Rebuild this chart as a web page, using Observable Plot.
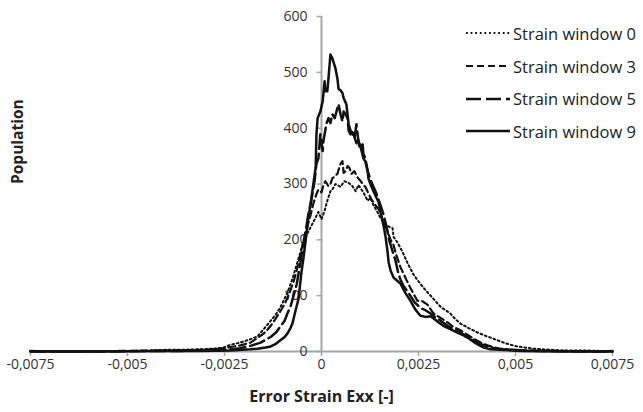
<!DOCTYPE html>
<html>
<head>
<meta charset="utf-8">
<script src="https://cdn.jsdelivr.net/npm/d3@7"></script>
<script src="https://cdn.jsdelivr.net/npm/@observablehq/plot@0.6"></script>
<style>
  html, body { margin: 0; padding: 0; background: #fff; }
  #wrap { position: relative; width: 643px; height: 412px; font-family: "Open Sans", sans-serif; }
  #legend { position: absolute; left: 466px; top: 17px; }
  .row { display: flex; align-items: center; height: 32.7px; }
  .row span { font-size: 16.5px; color: #222; margin-left: 3px; white-space: nowrap; }
</style>
</head>
<body>
<div id="wrap"><div id="legend"></div></div>
<script>
// x tick values and y tick values
const xTicks = [-0.0075, -0.005, -0.0025, 0, 0.0025, 0.005, 0.0075];
const yTicks = [0, 100, 200, 300, 400, 500, 600];

const seriesNames = ["Strain window 0", "Strain window 3", "Strain window 5", "Strain window 9"];

// [error strain, population]
const sw0 = [[-0.0075,1],[-0.00673,0],[-0.0057,1],[-0.00492,1],[-0.00441,2],[-0.004,3],[-0.00363,3],[-0.00312,4],[-0.00278,5],[-0.00253,7],[-0.00235,12],[-0.00209,16],[-0.00183,22],[-0.00165,27],[-0.00149,40],[-0.00131,55],[-0.00119,65],[-0.00106,79],[-0.00088,105],[-0.00075,130],[-0.00062,160],[-0.00049,190],[-0.00036,212],[-0.00021,232],[-0.00008,250],[0,237],[0.00008,252],[0.00015,270],[0.00023,287],[0.00028,290],[0.00036,300],[0.00041,298],[0.00049,295],[0.00059,305],[0.0007,302],[0.0008,296],[0.00088,287],[0.00095,298],[0.001,293],[0.00108,285],[0.00119,270],[0.00126,275],[0.00134,262],[0.00144,250],[0.00152,239],[0.00162,232],[0.0017,225],[0.00178,222],[0.00183,221],[0.00186,205],[0.00196,195],[0.00209,178],[0.00222,158],[0.00237,138],[0.00255,121],[0.00268,110],[0.00281,100],[0.00294,90],[0.00307,80],[0.0032,74],[0.00332,68],[0.00345,58],[0.00358,50],[0.00379,42],[0.00402,34],[0.00423,28],[0.00443,23],[0.00469,16],[0.00487,12],[0.00505,9],[0.00546,5],[0.00616,2],[0.00668,2],[0.00719,1],[0.0075,1]];

const sw3 = [[-0.0075,1],[-0.00621,0],[-0.00518,1],[-0.00441,1],[-0.00389,2],[-0.00312,3],[-0.0026,5],[-0.00235,8],[-0.00209,11],[-0.00183,16],[-0.00157,28],[-0.00144,35],[-0.00131,46],[-0.00119,58],[-0.00106,72],[-0.00095,85],[-0.00085,100],[-0.00072,125],[-0.00062,150],[-0.00054,175],[-0.00046,200],[-0.00036,225],[-0.00028,245],[-0.00021,265],[-0.00013,282],[-0.00008,290],[0,285],[0.00005,298],[0.0001,305],[0.00018,296],[0.00023,300],[0.00028,310],[0.00034,314],[0.00041,318],[0.00046,330],[0.00049,336],[0.00054,341],[0.00057,320],[0.00062,323],[0.00067,332],[0.00072,329],[0.00077,318],[0.00085,323],[0.0009,315],[0.00095,310],[0.001,306],[0.00106,300],[0.00113,295],[0.00121,283],[0.00129,272],[0.00139,262],[0.00147,255],[0.00152,248],[0.0016,230],[0.00168,220],[0.00178,200],[0.00186,190],[0.00193,172],[0.00204,150],[0.00211,140],[0.00219,128],[0.00229,114],[0.0024,100],[0.00247,91],[0.0026,90],[0.00273,84],[0.00289,68],[0.00307,60],[0.00325,52],[0.0034,44],[0.00358,38],[0.00376,30],[0.00392,23],[0.0041,16],[0.00428,11],[0.00448,7],[0.00461,5],[0.00513,2],[0.00616,1],[0.00719,0],[0.0075,1]];

const sw5 = [[-0.0075,0],[-0.0057,0],[-0.00441,1],[-0.00363,1],[-0.00286,2],[-0.00235,4],[-0.00209,6],[-0.00183,10],[-0.00157,16],[-0.00131,26],[-0.00116,35],[-0.00106,45],[-0.00095,55],[-0.00088,68],[-0.0008,80],[-0.00072,100],[-0.00064,120],[-0.00059,140],[-0.00054,160],[-0.00049,185],[-0.00041,215],[-0.00034,245],[-0.00026,272],[-0.00018,305],[-0.00013,336],[-0.00008,346],[-0.00003,389],[0.00003,359],[0.00005,377],[0.00013,409],[0.00018,418],[0.00023,409],[0.00028,425],[0.00034,418],[0.00041,436],[0.00044,443],[0.00049,425],[0.00054,412],[0.00057,430],[0.00062,425],[0.00067,418],[0.0007,395],[0.00075,389],[0.0008,391],[0.00085,382],[0.0009,407],[0.00093,389],[0.00098,364],[0.00106,371],[0.00108,354],[0.00113,346],[0.00119,323],[0.00126,308],[0.00134,295],[0.00142,282],[0.00152,262],[0.0016,245],[0.00168,222],[0.00175,198],[0.00183,180],[0.00191,162],[0.00198,140],[0.00204,128],[0.00211,118],[0.00219,110],[0.00229,100],[0.0024,88],[0.00255,78],[0.00268,74],[0.00281,68],[0.00296,60],[0.00307,55],[0.00325,46],[0.0034,40],[0.00358,34],[0.00376,26],[0.00397,19],[0.00415,12],[0.00436,7],[0.00461,4],[0.00487,3],[0.00564,1],[0.00668,0],[0.0075,0]];

const sw9 = [[-0.0075,0],[-0.0057,0],[-0.004,1],[-0.00312,1],[-0.00235,2],[-0.00183,4],[-0.00165,5],[-0.00144,7],[-0.00131,9],[-0.00119,13],[-0.00106,20],[-0.00095,26],[-0.00088,32],[-0.0008,42],[-0.00075,50],[-0.00067,73],[-0.00059,95],[-0.00052,140],[-0.00046,170],[-0.00041,198],[-0.00034,240],[-0.00028,264],[-0.00021,300],[-0.00015,330],[-0.00013,389],[-0.0001,418],[-0.00003,430],[0.00003,448],[0.00008,484],[0.0001,466],[0.00015,466],[0.00018,489],[0.00023,532],[0.00028,525],[0.00036,507],[0.00041,489],[0.00044,470],[0.00049,468],[0.00054,463],[0.00057,454],[0.00064,443],[0.0007,407],[0.00075,395],[0.00082,391],[0.0009,373],[0.00095,378],[0.001,368],[0.00108,346],[0.00113,340],[0.00119,323],[0.00121,310],[0.00126,300],[0.00134,287],[0.00142,275],[0.00147,268],[0.00152,250],[0.0016,225],[0.00165,206],[0.0017,180],[0.00173,160],[0.00178,145],[0.00186,132],[0.00193,128],[0.00204,121],[0.00216,105],[0.00229,91],[0.00242,75],[0.00255,64],[0.00268,62],[0.00281,63],[0.00289,59],[0.00302,52],[0.00314,46],[0.00332,40],[0.0035,34],[0.00363,30],[0.00376,25],[0.00397,15],[0.00418,7],[0.00436,4],[0.00461,3],[0.00513,1],[0.00616,0],[0.0075,0]];

const styles = [
  {strokeWidth: 2, dash: "1.8,2.8"},
  {strokeWidth: 2.2, dash: "7,4"},
  {strokeWidth: 2.5, dash: "15,5"},
  {strokeWidth: 2.5, dash: null}
];
const allSeries = [sw0, sw3, sw5, sw9];

const axisGray = "#a6a6a6";
const textCol = "#333333";
const fmt = d => d === 0 ? "0" : String(d).replace(".", ",");

const tickLeft = {draw(ctx) { ctx.moveTo(-5, 0); ctx.lineTo(0, 0); }};

const lineMarks = allSeries.map((s, i) => Plot.line(s, {
  x: d => d[0], y: d => d[1],
  stroke: "#111", strokeWidth: styles[i].strokeWidth,
  strokeDasharray: styles[i].dash, strokeLinejoin: "round"
}));

const chart = Plot.plot({
  width: 643, height: 412,
  marginLeft: 30, marginRight: 31, marginTop: 16, marginBottom: 61,
  style: {fontFamily: "Open Sans, sans-serif", fontSize: "14px", color: textCol, background: "transparent"},
  x: {domain: [-0.0075, 0.0075]},
  y: {domain: [0, 600], axis: null},
  marks: [
    Plot.axisX(xTicks, {tickSize: 5, tickPadding: 3, tickFormat: fmt, stroke: axisGray, strokeWidth: 1.5, fill: textCol, fontSize: 14, label: null}),
    Plot.ruleY([0], {stroke: axisGray, strokeWidth: 2}),
    Plot.ruleX([0], {stroke: axisGray, strokeWidth: 2}),
    Plot.dot(yTicks, {x: 0, y: d => d, symbol: tickLeft, stroke: axisGray, strokeWidth: 1.5, fill: "none"}),
    Plot.text(yTicks, {x: 0, y: d => d, text: d => String(d), textAnchor: "end", dx: -14, fill: textCol, fontSize: 14}),
    ...lineMarks,
    Plot.text(["Error Strain Exx [-]"], {frameAnchor: "bottom", dy: 50, fontWeight: "bold", fontSize: 16, fill: "#222"}),
    Plot.text(["Population"], {frameAnchor: "left", rotate: -90, dx: -12, fontWeight: "bold", fontSize: 15.5, fill: "#222"})
  ]
});
document.getElementById("wrap").prepend(chart);

// legend
const legend = document.getElementById("legend");
seriesNames.forEach((name, i) => {
  const row = document.createElement("div");
  row.className = "row";
  const svgNS = "http://www.w3.org/2000/svg";
  const svg = document.createElementNS(svgNS, "svg");
  svg.setAttribute("width", 44); svg.setAttribute("height", 10);
  const ln = document.createElementNS(svgNS, "line");
  ln.setAttribute("x1", 0); ln.setAttribute("x2", 44);
  ln.setAttribute("y1", 5); ln.setAttribute("y2", 5);
  ln.setAttribute("stroke", "#111");
  ln.setAttribute("stroke-width", styles[i].strokeWidth);
  if (styles[i].dash) ln.setAttribute("stroke-dasharray", styles[i].dash);
  svg.appendChild(ln);
  const span = document.createElement("span");
  span.textContent = name;
  row.appendChild(svg); row.appendChild(span);
  legend.appendChild(row);
});
</script>
</body>
</html>
